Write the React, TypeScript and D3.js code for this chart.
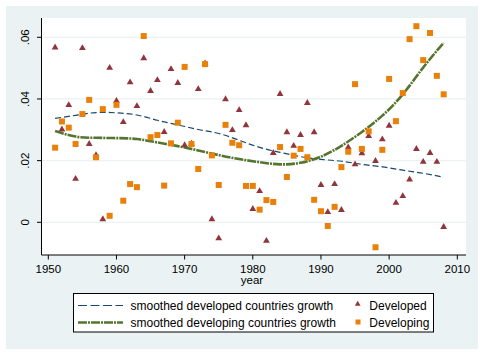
import React from "react";
import * as d3 from "d3";

const years = d3.range(1951, 2009);

const developed = [
  0.0567, 0.0301, 0.038, 0.0141, 0.0565, 0.0254, 0.0218, 0.001, 0.0501, 0.0394,
  0.0325, 0.0454, 0.0377, 0.0532, 0.0426, 0.0461, 0.0293, 0.0497, 0.0452, 0.025,
  0.0255, 0.0432, 0.0515, 0.001, -0.0052, 0.0399, 0.0299, 0.0364, 0.0315, 0.0043,
  0.0101, -0.006, 0.0225, 0.0416, 0.0292, 0.0248, 0.0283, 0.0387, 0.0292, 0.0121,
  0.0033, 0.0124, 0.004, 0.0243, 0.0188, 0.0224, 0.028, 0.0199, 0.0269, 0.0313,
  0.0063, 0.0085, 0.0139, 0.0238, 0.0196, 0.0225, 0.0196, -0.0015,
];

const developing = [
  0.0242, 0.0327, 0.0307, 0.0254, 0.0351, 0.0397, 0.0211, 0.0367, 0.0021, 0.0381,
  0.007, 0.0124, 0.0114, 0.0604, 0.0276, 0.0283, 0.0119, 0.0256, 0.0323, 0.0504,
  0.0254, 0.0173, 0.0513, 0.0217, 0.0121, 0.0316, 0.0258, 0.025, 0.0118, 0.0118,
  0.0041, 0.0072, 0.0066, 0.0244, 0.0147, 0.0216, 0.0238, 0.0211, 0.0073, 0.0036,
  -0.0012, 0.005, 0.0179, 0.0229, 0.0448, 0.0238, 0.0295, -0.0081, 0.0235, 0.0465,
  0.0328, 0.0419, 0.0594, 0.0636, 0.0526, 0.0614, 0.0475, 0.0415,
];

const smoothYears = [1951, 1954, 1957, 1960, 1963, 1966, 1969, 1972, 1975, 1978, 1981, 1984, 1987, 1990, 1993, 1996, 1999, 2002, 2005, 2008];
const smoothDeveloped = [0.0337, 0.0347, 0.0356, 0.0355, 0.0348, 0.0331, 0.0316, 0.0301, 0.0288, 0.0266, 0.0243, 0.0227, 0.0213, 0.0204, 0.0198, 0.0188, 0.018, 0.0169, 0.0159, 0.0146];
const smoothDeveloping = [0.0296, 0.0278, 0.0274, 0.0273, 0.027, 0.0259, 0.0247, 0.0233, 0.0218, 0.0205, 0.0195, 0.0188, 0.0193, 0.0213, 0.0248, 0.0293, 0.0346, 0.0415, 0.0502, 0.0582];

const xTicks = [1950, 1960, 1970, 1980, 1990, 2000, 2010];
const yTicks = [0, 0.02, 0.04, 0.06];
const yTickLabels = ["0", ".02", ".04", ".06"];

const legendLines = ["smoothed developed countries growth", "smoothed developing countries growth"];
const legendMarkers = ["Developed", "Developing"];

const NAVY = "#1a476f";
const GREEN = "#55752f";
const MAROON = "#90353b";
const ORANGE = "#e8800a";
const BG = "#eaf2f3";
const FONT = "'Liberation Sans', Arial, sans-serif";

export default function App() {
  const W = 484, H = 355;
  const plotL = 41.5, plotR = 466, plotT = 18, plotB = 255;
  const x = d3.scaleLinear().domain([1950, 2010]).range([48.3, 457.3]);
  const y = d3.scaleLinear().domain([0, 0.06]).range([222.3, 37.3]);

  const line = d3
    .line<number>()
    .x((_, i) => x(smoothYears[i]))
    .y((d) => y(d))
    .curve(d3.curveNatural);

  const tri = d3.symbol(d3.symbolTriangle, 20)()!;
  const triSmall = d3.symbol(d3.symbolTriangle, 14)()!;

  return (
    <div style={{ position: "absolute", left: 0, top: 0 }}>
      <svg width={W} height={H} style={{ display: "block", fontFamily: FONT }}>
        <rect x={0} y={0} width={W} height={H} fill="#fff" />
        <rect x={6} y={6} width={472} height={343} fill={BG} />
        <rect x={plotL} y={plotT} width={plotR - plotL} height={plotB - plotT} fill="#fff" />
        {yTicks.map((t) => (
          <line key={t} x1={plotL} x2={plotR} y1={y(t)} y2={y(t)} stroke={BG} strokeWidth={1.2} />
        ))}
        <path d={line(smoothDeveloped) || ""} fill="none" stroke={NAVY} strokeWidth={1.2} strokeDasharray="6,3" />
        <path d={line(smoothDeveloping) || ""} fill="none" stroke={GREEN} strokeWidth={2.6} strokeDasharray="9,1,2,1" />
        {developed.map((v, i) => (
          <path key={"d" + i} d={tri} transform={`translate(${x(years[i])},${y(v)})`} fill={MAROON} />
        ))}
        {developing.map((v, i) => (
          <rect key={"g" + i} x={x(years[i]) - 3} y={y(v) - 3} width={6} height={6} fill={ORANGE} />
        ))}
        {/* axes */}
        <line x1={plotL} x2={plotL} y1={plotT} y2={plotB} stroke="#000" strokeWidth={1} />
        <line x1={plotL} x2={plotR} y1={plotB} y2={plotB} stroke="#000" strokeWidth={1} />
        {yTicks.map((t, i) => (
          <g key={"yt" + t}>
            <line x1={plotL - 4.5} x2={plotL} y1={y(t)} y2={y(t)} stroke="#000" />
            <text
              transform={`translate(${29},${y(t)}) rotate(-90)`}
              textAnchor="middle"
              fontSize={11.5}
              fill="#000"
            >
              {yTickLabels[i]}
            </text>
          </g>
        ))}
        {xTicks.map((t) => (
          <g key={"xt" + t}>
            <line x1={x(t)} x2={x(t)} y1={plotB} y2={plotB + 4.5} stroke="#000" />
            <text x={x(t)} y={272.5} textAnchor="middle" fontSize={11.5} fill="#000">
              {t}
            </text>
          </g>
        ))}
        <text x={252} y={284} textAnchor="middle" fontSize={11.5} fill="#000">
          year
        </text>
        {/* legend */}
        <rect x={73.5} y={293.5} width={360} height={38.5} fill="#fff" stroke="#000" strokeWidth={1} />
        <line x1={78} x2={123} y1={305.5} y2={305.5} stroke={NAVY} strokeWidth={1.2} strokeDasharray="9,3.5" />
        <line x1={78} x2={123} y1={322.5} y2={322.5} stroke={GREEN} strokeWidth={2.6} strokeDasharray="9,1,2,1" />
        {legendLines.map((s, i) => (
          <text key={s} x={130.5} y={309.8 + i * 17} fontSize={12} fill="#000">
            {s}
          </text>
        ))}
        <path d={triSmall} transform="translate(357.7,304)" fill={MAROON} />
        <rect x={355.5} y={319.5} width={5} height={5} fill={ORANGE} />
        {legendMarkers.map((s, i) => (
          <text key={s} x={369.3} y={309.8 + i * 17} fontSize={12} fill="#000">
            {s}
          </text>
        ))}
      </svg>
    </div>
  );
}
